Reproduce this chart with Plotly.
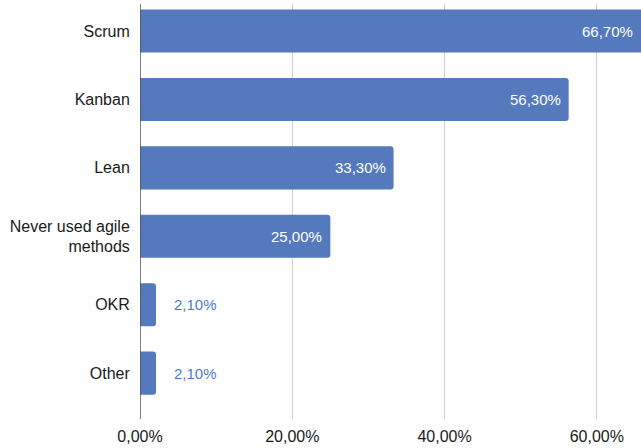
import plotly.graph_objects as go

# Share of respondents per method (percent)
categories = ["Scrum", "Kanban", "Lean", "Never used agile<br>methods", "OKR", "Other"]
values = [66.7, 56.3, 33.3, 25.0, 2.1, 2.1]
x_ticks = [0, 20, 40, 60]
x_max = 65.8

BAR = "#5479bc"
LABEL_OUT = "#4f7bcb"
FONT = "Liberation Sans, Arial, sans-serif"
TEXT = "#1a1a1a"


def pct(v):
    return f"{v:.2f}".replace(".", ",") + "%"


fig = go.Figure()
fig.add_trace(go.Bar(
    x=values,
    y=categories,
    orientation="h",
    marker=dict(color=BAR, line=dict(width=0), cornerradius=3),
    hoverinfo="skip",
))

# Value labels: white inside the end of long bars, blue to the right of short ones
for v, c in zip(values, categories):
    if v >= 10:
        fig.add_annotation(
            x=min(v, x_max), y=c, xref="x", yref="y",
            text=pct(v), showarrow=False,
            xanchor="right", xshift=-6,
            font=dict(family=FONT, size=15, color="white"),
        )
    else:
        fig.add_annotation(
            x=v, y=c, xref="x", yref="y",
            text=pct(v), showarrow=False,
            xanchor="left", xshift=16,
            font=dict(family=FONT, size=15, color=LABEL_OUT),
        )

fig.update_layout(
    width=641, height=448,
    margin=dict(l=140, r=0, t=4, b=29),
    paper_bgcolor="white", plot_bgcolor="white",
    bargap=0.37,
    showlegend=False,
    font=dict(family=FONT, size=16, color=TEXT),
)
fig.update_xaxes(
    range=[0, x_max],
    tickmode="array",
    tickvals=x_ticks,
    ticktext=[pct(t) for t in x_ticks],
    showgrid=True, gridcolor="#d0d0d0", gridwidth=1,
    zeroline=False, showline=False,
    ticks="", ticklabelstandoff=6,
    tickfont=dict(family=FONT, size=16, color=TEXT),
)
fig.update_yaxes(
    type="category",
    categoryorder="array", categoryarray=categories,
    range=[5.67, -0.395],
    showgrid=False, zeroline=False,
    showline=False,
    ticks="outside", ticklen=6, tickcolor="rgba(0,0,0,0)",
    tickfont=dict(family=FONT, size=16, color=TEXT),
)
# Dark baseline at 0%
fig.add_shape(type="line", xref="x", yref="paper", x0=0, x1=0, y0=0, y1=1,
              line=dict(color="#555555", width=1.5), layer="above")

fig.write_html("out.html")
